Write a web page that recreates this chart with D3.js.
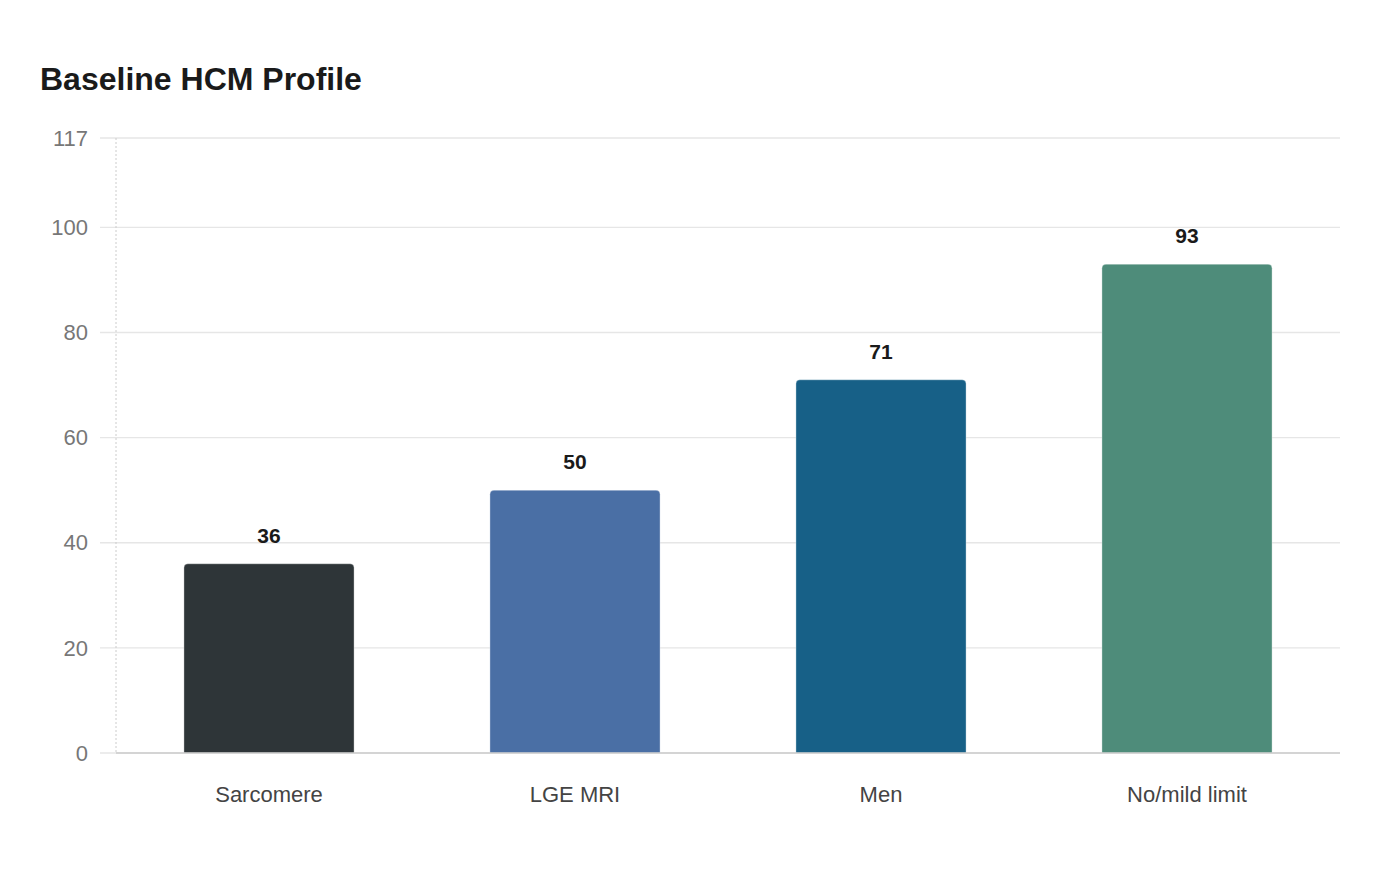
<!DOCTYPE html>
<html><head><meta charset="utf-8">
<script src="https://cdn.jsdelivr.net/npm/d3@7/dist/d3.min.js"></script>
<style>body{margin:0;background:#fff;font-family:"Liberation Sans",Arial,sans-serif;}</style>
</head><body>
<svg id="c" width="1400" height="880"></svg>
<script>
const categories = ["Sarcomere", "LGE MRI", "Men", "No/mild limit"];
const values = [36, 50, 71, 93];
const colors = ["#2e3538", "#4a6fa5", "#176087", "#4e8c7a"];
const yTicks = [0, 20, 40, 60, 80, 100, 117];
const title = "Baseline HCM Profile";

const svg = d3.select("#c");
const m = {left:116, right:60, top:138, bottom:127};
const W = 1400, H = 880;
const x = d3.scaleBand().domain(categories).range([m.left, W - m.right]).paddingInner(0.444).paddingOuter(0.222);
const y = d3.scaleLinear().domain([0, 117]).range([H - m.bottom, m.top]);

svg.append("text").attr("x", 40).attr("y", 90).text(title)
  .attr("font-size", 32).attr("font-weight", "bold").attr("fill", "#1a1a1a");

// grid + y labels
const g = svg.append("g");
g.selectAll("line.grid").data(yTicks).join("line")
  .attr("x1", 100).attr("x2", W - m.right)
  .attr("y1", d => y(d)).attr("y2", d => y(d))
  .attr("stroke", "#e6e6e6").attr("stroke-width", 1.3);
g.selectAll("text.yl").data(yTicks).join("text")
  .attr("x", 88).attr("y", d => y(d)).attr("dy", "0.35em")
  .attr("text-anchor", "end").attr("font-size", 22).attr("fill", "#777")
  .text(d => d);

// y axis dotted line
svg.append("line").attr("x1", m.left).attr("x2", m.left).attr("y1", m.top).attr("y2", y(0))
  .attr("stroke", "#ccc").attr("stroke-dasharray", "2,2");

// bars
const r = 4;
svg.selectAll("path.bar").data(values).join("path")
  .attr("d", (d, i) => {
    const x0 = x(categories[i]), w = x.bandwidth(), y0 = y(d), yb = y(0);
    return `M${x0},${yb} L${x0},${y0 + r} Q${x0},${y0} ${x0 + r},${y0} L${x0 + w - r},${y0} Q${x0 + w},${y0} ${x0 + w},${y0 + r} L${x0 + w},${yb} Z`;
  })
  .attr("fill", (d, i) => colors[i])
  .attr("stroke", "rgba(255,255,255,0.35)").attr("stroke-width", 1);

// baseline
svg.append("line").attr("x1", m.left).attr("x2", W - m.right).attr("y1", y(0)).attr("y2", y(0))
  .attr("stroke", "#ccc").attr("stroke-width", 1.5);

// value labels
svg.selectAll("text.v").data(values).join("text")
  .attr("x", (d, i) => x(categories[i]) + x.bandwidth() / 2)
  .attr("y", d => y(d) - 21)
  .attr("text-anchor", "middle").attr("font-size", 21).attr("font-weight", "bold").attr("fill", "#1a1a1a")
  .text(d => d);

// x labels
svg.selectAll("text.xl").data(categories).join("text")
  .attr("x", d => x(d) + x.bandwidth() / 2).attr("y", y(0) + 49)
  .attr("text-anchor", "middle").attr("font-size", 22).attr("fill", "#444")
  .text(d => d);
</script>
</body></html>
